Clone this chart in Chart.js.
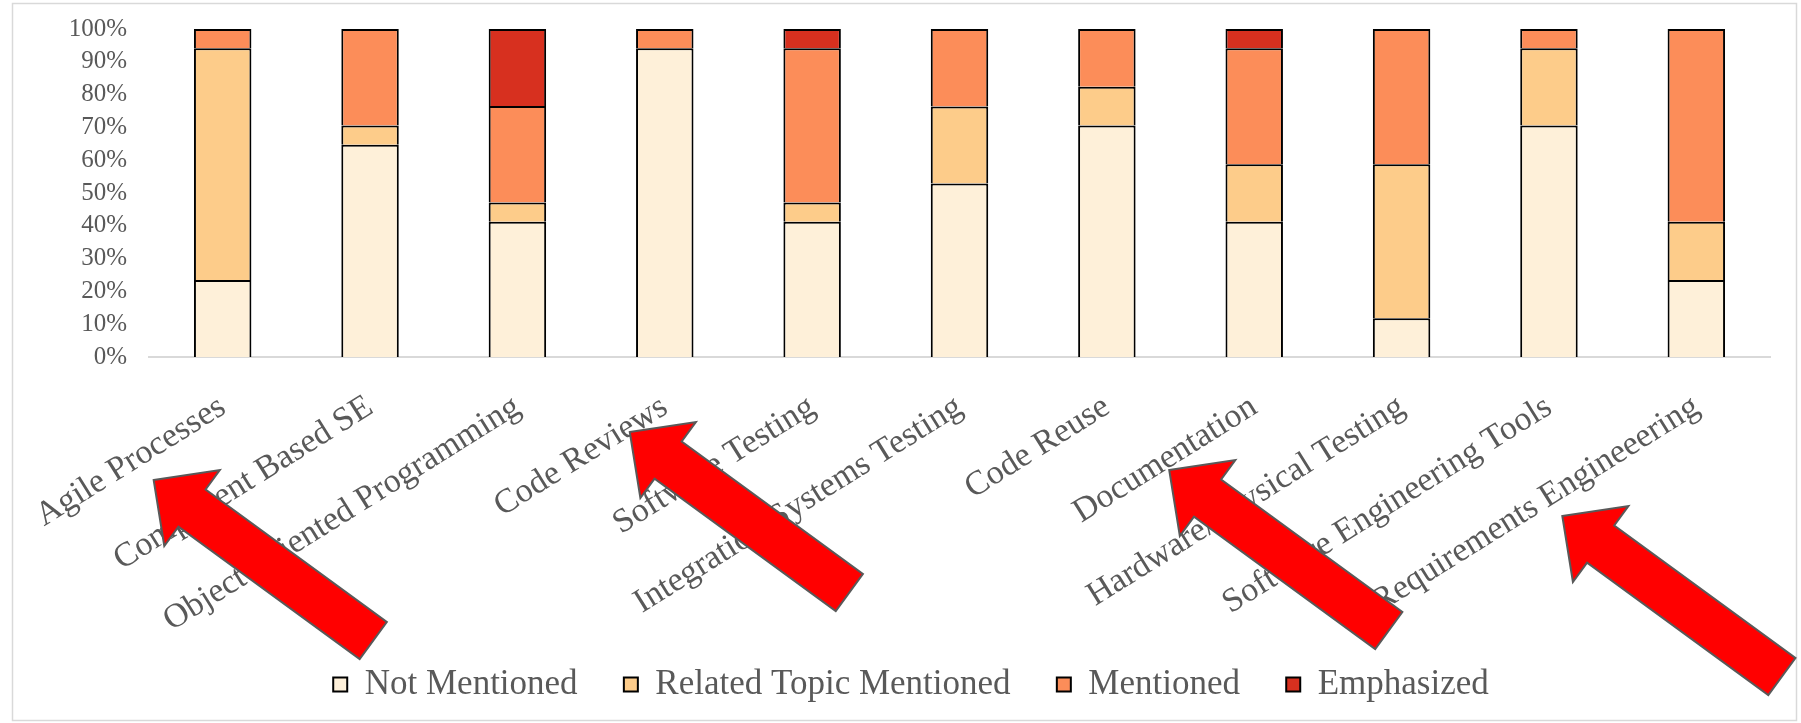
<!DOCTYPE html>
<html>
<head>
<meta charset="utf-8">
<script src="https://cdn.jsdelivr.net/npm/chart.js@4/dist/chart.umd.min.js"></script>
<style>
  html, body { margin: 0; padding: 0; background: #fff; }
  #wrap { width: 1801px; height: 723px; }
</style>
</head>
<body>
<div id="wrap"><canvas id="grafico" width="1801" height="723"></canvas></div>
<script>
const categories = ['Agile Processes', 'Component Based SE', 'Object Oriented Programming', 'Code Reviews',
    'Software Testing', 'Integration/Systems Testing', 'Code Reuse', 'Documentation',
    'Hardware/Physical Testing', 'Software Engineering Tools', 'Requirements Engineeering'];
const notMentioned = [23.5, 64.7, 41.2, 94.1, 41.2, 52.9, 70.6, 41.2, 11.8, 70.6, 23.5];
const relatedTopic = [70.6, 5.9, 5.9, 0, 5.9, 23.5, 11.8, 17.6, 47.0, 23.5, 17.7];
const mentioned = [5.9, 29.4, 29.4, 5.9, 47.0, 23.6, 17.6, 35.3, 41.2, 5.9, 58.8];
const emphasized = [0, 0, 23.5, 0, 5.9, 0, 0, 5.9, 0, 0, 0];

// red arrows drawn over the picture, tip given from a category tick and the axis line
const arrows = [
    { cat: 0, dx: -69, dy: 123 },
    { cat: 3, dx: -35, dy: 75 },
    { cat: 7, dx: -85, dy: 113 },
    { cat: 10, dx: -134, dy: 159 }
];

const serif = 'Liberation Serif, Times New Roman, serif';
const grey = '#595959';

const framePlugin = {
    id: 'frame',
    beforeDraw(chart) {
        const ctx = chart.ctx;
        ctx.save();
        ctx.fillStyle = '#ffffff';
        ctx.fillRect(0, 0, chart.width, chart.height);
        ctx.strokeStyle = '#d9d9d9';
        ctx.lineWidth = 1.5;
        ctx.strokeRect(12.5, 3.5, 1784, 717);
        ctx.restore();
    }
};

const arrowPlugin = {
    id: 'arrows',
    afterDraw(chart) {
        const x = chart.scales.x, y = chart.scales.y;
        const ctx = chart.ctx;
        const ang = Math.atan2(160.5, 219.5);
        const ux = Math.cos(ang), uy = Math.sin(ang);
        const vx = -uy, vy = ux;
        const shape = [[0, 0], [47.5, -47], [47.5, -23], [272, -23], [272, 23], [47.5, 23], [47.5, 47]];
        ctx.save();
        arrows.forEach(function (a) {
            const tx = x.getPixelForValue(a.cat) + a.dx;
            const ty = y.getPixelForValue(0) + a.dy;
            ctx.beginPath();
            shape.forEach(function (p, i) {
                const px = tx + p[0] * ux + p[1] * vx;
                const py = ty + p[0] * uy + p[1] * vy;
                if (i === 0) ctx.moveTo(px, py); else ctx.lineTo(px, py);
            });
            ctx.closePath();
            ctx.fillStyle = '#ff0000';
            ctx.fill();
            ctx.strokeStyle = grey;
            ctx.lineWidth = 2;
            ctx.lineJoin = 'miter';
            ctx.stroke();
        });
        ctx.restore();
    }
};

function serie(label, data, color) {
    return {
        label: label,
        data: data,
        backgroundColor: color,
        borderColor: '#000000',
        borderWidth: 2,
        borderSkipped: 'start',
        barPercentage: 0.39,
        categoryPercentage: 1
    };
}

const config = {
    type: 'bar',
    data: {
        labels: categories,
        datasets: [
            serie('Not Mentioned', notMentioned, '#fef0d9'),
            serie('Related Topic Mentioned', relatedTopic, '#fdcc8a'),
            serie('Mentioned', mentioned, '#fc8d59'),
            serie('Emphasized', emphasized, '#d7301f')
        ]
    },
    options: {
        responsive: false,
        animation: false,
        layout: { padding: { top: 29, left: 52, right: 31, bottom: 11 } },
        plugins: {
            tooltip: { enabled: false },
            legend: {
                position: 'bottom',
                labels: {
                    boxWidth: 14,
                    boxHeight: 14,
                    padding: 20,
                    color: grey,
                    font: { family: serif, size: 35 },
                    generateLabels: function (chart) {
                        const items = Chart.defaults.plugins.legend.labels.generateLabels(chart);
                        items.forEach(function (it, i) {
                            if (i < items.length - 1) it.text += '   ';
                        });
                        return items;
                    }
                }
            }
        },
        scales: {
            x: {
                stacked: true,
                grid: { display: false, drawTicks: false },
                border: { display: true, color: '#d9d9d9', width: 2 },
                ticks: {
                    autoSkip: false,
                    maxRotation: 32,
                    minRotation: 32,
                    padding: 30,
                    color: grey,
                    font: { family: serif, size: 34 }
                },
                afterFit(scale) { scale.height = 290; }
            },
            y: {
                stacked: true,
                min: 0,
                max: 100,
                grid: { display: false, drawTicks: true, tickLength: 22 },
                border: { display: false },
                ticks: {
                    stepSize: 10,
                    autoSkip: false,
                    padding: 0,
                    color: grey,
                    font: { family: serif, size: 25 },
                    callback: function (v) { return v + '%'; }
                },
                afterFit(scale) { scale.width = 97; }
            }
        }
    },
    plugins: [framePlugin, arrowPlugin]
};

var ctx = document.getElementById('grafico').getContext('2d');
let myChart = new Chart(ctx, config);
</script>
</body>
</html>
